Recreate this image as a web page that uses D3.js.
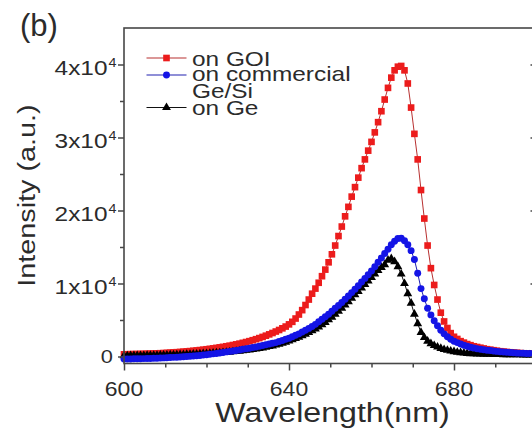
<!DOCTYPE html>
<html><head><meta charset="utf-8">
<script src="https://cdn.jsdelivr.net/npm/d3@7"></script>
<style>html,body{margin:0;padding:0;background:#fff;overflow:hidden;} svg{display:block;}</style>
</head><body><svg id="c" width="532" height="433"></svg>
<script>
// ---- data ----
const wavelengths = [
600,600.8,601.6,602.4,603.2,604,604.8,605.6,606.4,607.2,
608,608.8,609.6,610.4,611.2,612,612.8,613.6,614.4,615.2,
616,616.8,617.6,618.4,619.2,620,620.8,621.6,622.4,623.2,
624,624.8,625.6,626.4,627.2,628,628.8,629.6,630.4,631.2,
632,632.8,633.6,634.4,635.2,636,636.8,637.6,638.4,639.2,
640,640.8,641.6,642.4,643.2,644,644.8,645.6,646.4,647.2,
648,648.8,649.6,650.4,651.2,652,652.8,653.6,654.4,655.2,
656,656.8,657.6,658.4,659.2,660,660.8,661.6,662.4,663.2,
664,664.8,665.6,666.4,667.2,668,668.8,669.6,670.4,671.2,
672,672.8,673.6,674.4,675.2,676,676.8,677.6,678.4,679.2,
680,680.8,681.6,682.4,683.2,684,684.8,685.6,686.4,687.2,
688,688.8,689.6,690.4,691.2,692,692.8,693.6,694.4,695.2,
696,696.8,697.6,698.4,699.2,700];

const onGOI = [
300,310,320,330,340,350,360,380,390,410,
430,450,470,500,530,560,590,620,660,700,
740,780,830,880,930,990,1050,1110,1180,1250,
1320,1400,1480,1570,1660,1760,1870,1980,2100,2230,
2370,2520,2680,2850,3030,3220,3420,3630,3860,4100,
4400,4750,5200,5750,6350,7050,7800,8600,9300,10100,
11000,11900,12900,14000,15200,16500,17800,19200,20500,21900,
23200,24500,25800,27000,28200,29400,30700,32100,33600,35200,
36800,38200,39200,39700,39800,39200,37400,34100,30500,27000,
22800,18900,15200,12100,9800,7800,6000,4800,3900,3200,
2700,2400,2100,1900,1700,1550,1400,1300,1200,1100,
1000,930,860,790,720,670,620,580,540,500,
470,440,410,380,360,340];

const onGeSi = [
-350,-340,-330,-320,-310,-300,-290,-280,-270,-250,
-230,-210,-190,-170,-150,-120,-90,-60,-30,0,
30,70,110,150,200,250,300,360,420,480,
560,630,700,760,830,900,980,1060,1140,1220,
1300,1400,1500,1600,1700,1800,1900,2050,2200,2350,
2500,2700,2900,3100,3350,3600,3850,4100,4400,4750,
5100,5450,5800,6200,6600,7000,7400,7850,8300,8750,
9200,9700,10200,10700,11200,11700,12300,12900,13500,14100,
14700,15300,15800,16150,16200,15850,15300,14500,13300,11400,
9300,7900,6600,5700,4900,4200,3600,3100,2700,2350,
2100,1900,1700,1550,1400,1280,1170,1070,980,910,
850,810,750,700,660,620,580,550,520,490,
460,440,420,400,380,360];

const onGe = [
100,100,110,110,120,120,130,140,150,160,
170,180,190,200,210,220,230,250,260,280,
300,320,340,360,380,400,420,450,480,510,
540,570,605,645,690,740,795,850,905,960,
1020,1100,1180,1270,1360,1460,1570,1690,1820,1970,
2140,2300,2470,2660,2860,3070,3300,3540,3790,4060,
4350,4680,5030,5400,5790,6200,6630,7070,7520,7980,
8450,8920,9400,9880,10360,10840,11320,11780,12200,12580,
13200,13400,13000,12300,11300,10000,8600,7300,5800,4500,
3300,2600,2100,1750,1500,1300,1100,950,850,750,
660,580,520,470,430,400,380,360,340,320,
310,300,290,280,270,260,250,245,240,235,
230,225,220,215,210,205];

const legendLabels = [["on GOI"], ["on commercial", "Ge/Si"], ["on Ge"]];
const xMajorTicks = [600, 640, 680];
const xMinorTicks = [610, 620, 630, 650, 660, 670, 690];
const yMajorTicks = [0, 10000, 20000, 30000, 40000];
const yMinorTicks = [5000, 15000, 25000, 35000];
const yTickMantissa = ["0", "1x10", "2x10", "3x10", "4x10"];
const yTickExponent = ["", "4", "4", "4", "4"];
const xTitle = "Wavelength(nm)";
const yTitle = "Intensity (a.u.)";
const panelLabel = "(b)";

// ---- chart ----
const svg = d3.select("#c");
const x = d3.scaleLinear().domain([600, 700]).range([124, 536.5]);
const y = d3.scaleLinear().domain([-960, 45000]).range([363.5, 28]);
const FONT = "'Liberation Sans', Arial, Helvetica, sans-serif";
const TXT = "#2b2b2b";
const AX = "#474747";

function stext(g, str, px, py, size, sx, anchor) {
  return g.append("text")
    .attr("transform", `translate(${px},${py}) scale(${sx},1)`)
    .attr("text-anchor", anchor)
    .attr("font-family", FONT)
    .attr("font-size", size)
    .attr("fill", TXT)
    .text(str);
}

const series = [
  {name: "goi", vals: onGOI, color: "#ec1c1c", line: "#b83030", sym: d3.symbolSquare, size: 44},
  {name: "ge", vals: onGe, color: "#000000", line: "#111111", sym: d3.symbolTriangle, size: 34},
  {name: "gesi", vals: onGeSi, color: "#1414e6", line: "#2020b0", sym: d3.symbolCircle, size: 38}
];

const plot = svg.append("g");
series.forEach(s => {
  const pts = wavelengths.map((w, i) => [w, s.vals[i]]);
  plot.append("path")
    .attr("d", d3.line().x(d => x(d[0])).y(d => y(d[1]))(pts))
    .attr("fill", "none").attr("stroke", s.line).attr("stroke-width", 1);
  plot.selectAll(null).data(pts).enter().append("path")
    .attr("transform", d => `translate(${x(d[0])},${y(d[1])})`)
    .attr("d", d3.symbol().type(s.sym).size(s.size)())
    .attr("fill", s.color);
});

// frame
svg.append("rect")
  .attr("x", x(600)).attr("y", y(45000))
  .attr("width", x(700) - x(600)).attr("height", y(-960) - y(45000))
  .attr("fill", "none").attr("stroke", AX).attr("stroke-width", 1.6);

function styleAxis(g) {
  g.select(".domain").remove();
  g.selectAll(".tick line").attr("stroke", AX).attr("stroke-width", 1.5);
}
// bottom axis ticks
svg.append("g").attr("transform", `translate(0,${y(-960)})`)
  .call(d3.axisBottom(x).tickValues(xMajorTicks).tickSize(7).tickFormat(""))
  .call(styleAxis);
svg.append("g").attr("transform", `translate(0,${y(-960)})`)
  .call(d3.axisBottom(x).tickValues(xMinorTicks).tickSize(4).tickFormat(""))
  .call(styleAxis);
// left axis ticks
svg.append("g").attr("transform", `translate(${x(600)},0)`)
  .call(d3.axisLeft(y).tickValues(yMajorTicks).tickSize(6).tickFormat(""))
  .call(styleAxis);
svg.append("g").attr("transform", `translate(${x(600)},0)`)
  .call(d3.axisLeft(y).tickValues(yMinorTicks).tickSize(4).tickFormat(""))
  .call(styleAxis);
// right axis inner ticks
svg.append("g").attr("transform", `translate(${x(700)},0)`)
  .call(d3.axisLeft(y).tickValues(yMajorTicks).tickSize(6).tickFormat(""))
  .call(styleAxis);
svg.append("g").attr("transform", `translate(${x(700)},0)`)
  .call(d3.axisLeft(y).tickValues(yMinorTicks).tickSize(4).tickFormat(""))
  .call(styleAxis);

// x tick labels
const lab = svg.append("g");
xMajorTicks.forEach(v => stext(lab, String(v), x(v), 395.5, 20, 1.15, "middle"));
// y tick labels
yMajorTicks.forEach((v, i) => {
  const ty = y(v);
  if (yTickExponent[i] === "") {
    stext(lab, yTickMantissa[i], 113, ty + 7, 19, 1.15, "end");
  } else {
    stext(lab, yTickMantissa[i], 107.5, ty + 11, 20, 1.22, "end");
    stext(lab, yTickExponent[i], 108.5, ty + 3, 13, 1.1, "start");
  }
});

// axis titles
stext(lab, xTitle, 332.5, 421.5, 27, 1.19, "middle");
lab.append("text")
  .attr("transform", `translate(35,195.5) rotate(-90) scale(1.2,1)`)
  .attr("text-anchor", "middle").attr("font-family", FONT).attr("font-size", 24)
  .attr("fill", TXT).text(yTitle);
stext(lab, panelLabel, 20, 36, 31, 1.0, "start");

// legend
const leg = svg.append("g");
const legRows = [
  {s: series[0], lineY: 58, base: [65.5]},
  {s: series[2], lineY: 75, base: [80.5, 97.5]},
  {s: series[1], lineY: 107.5, base: [115]}
];
legRows.forEach((r, k) => {
  leg.append("line").attr("x1", 146.5).attr("x2", 186.5)
    .attr("y1", r.lineY).attr("y2", r.lineY)
    .attr("stroke", r.s.line).attr("stroke-width", 1.2);
  leg.append("path")
    .attr("transform", `translate(166.5,${r.lineY})`)
    .attr("d", d3.symbol().type(r.s.sym).size(r.s.size)())
    .attr("fill", r.s.color);
  legendLabels[k].forEach((t, j) => stext(leg, t, 192, r.base[j], 20, 1.22, "start"));
});
</script>
</body></html>
